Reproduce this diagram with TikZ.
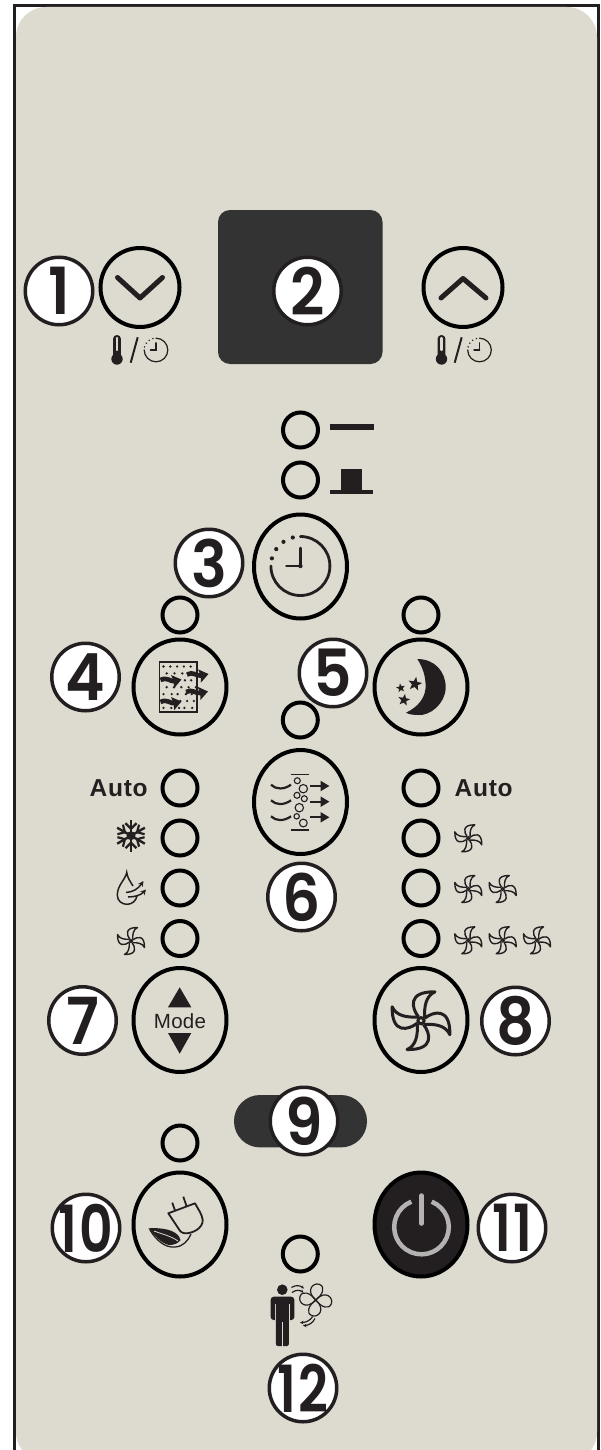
\documentclass[tikz,border=0pt]{standalone}
\usepackage{fontspec}
\usepackage{graphicx}
\setmainfont{Liberation Sans}
\newfontfamily\numfont{Poppins SemiBold}
\usetikzlibrary{shapes.geometric,arrows.meta}
\definecolor{panel}{HTML}{DDDBD0}
\definecolor{ink}{HTML}{231F20}
\definecolor{slate}{HTML}{333333}
\definecolor{powgray}{HTML}{B5B3B2}
\tikzset{
  btn/.style={ellipse,draw=black,line width=4pt,minimum width=93pt,minimum height=104pt,inner sep=0pt},
  rndbtn/.style={ellipse,draw=black,line width=4pt,minimum width=93pt,minimum height=95pt,inner sep=0pt},
  updown/.style={ellipse,draw=black,line width=4pt,minimum width=79pt,minimum height=79pt,inner sep=0pt},
  led/.style={circle,draw=black,line width=4pt,minimum size=35pt,inner sep=0pt},
  badge/.style={circle,draw=ink,fill=white,line width=3.5pt,minimum size=67.5pt,inner sep=0pt,text=ink},
  lbl/.style={text=ink,inner sep=0pt,font=\fontsize{24.5}{24.5}\selectfont\bfseries\addfontfeature{LetterSpace=3}},
  astar/.style={star,star points=5,star point ratio=2.4,fill=ink,inner sep=0pt}
}
\newcommand\bnum[1]{\makebox[0pt]{\scalebox{.92}[1]{\fontsize{65}{65}\selectfont\numfont #1}}}
\newcommand\bnumw[1]{\makebox[0pt]{\scalebox{.8}[1]{\fontsize{65}{65}\selectfont\numfont\addfontfeature{LetterSpace=4} #1}}}
% fan icon: x, y, radius, line width
\newcommand\fanicon[4]{%
  \begin{scope}[shift={(#1,#2)},y=1pt,scale=#3]
    \foreach \a in {0,90,180,270}
      \draw[ink,line width=#4,line join=round,rotate=\a] (-.08,.12) .. controls (-.3,.4) and (-.45,.95) .. (.45,.93) .. controls (.15,.8) and (.1,.45) .. (.12,.1);
    \draw[ink,line width=#4] (0,0) circle (.1);
  \end{scope}}
% clock icon: x, y, scale, line width
\newcommand\clockicon[4]{%
  \begin{scope}[shift={(#1,#2)},y=1pt,scale=#3]
    \draw[ink,line width=#4,line cap=round] (90:29.5) arc[start angle=90,end angle=-180,radius=29.5];
    \foreach \a in {105,125,145,165} \fill[ink] (\a:29.5) circle (2.1);
    \draw[ink,line width=#4,line cap=round] (0,18) -- (0,0) -- (-14,0);
    \fill[ink] (0,0) circle (2.2);
  \end{scope}}
\newcommand\thermo[2]{%
  \begin{scope}[shift={(#1,#2)}]
    \fill[ink,rounded corners=3.8pt] (-3.9,0) rectangle (3.9,24);
    \fill[ink] (0,24) circle (5.7);
    \draw[panel,line width=2.2pt,line cap=round] (0,3) -- (0,15);
  \end{scope}}
\begin{document}
\begin{tikzpicture}[x=1pt,y=-1pt]
\clip (0,0) rectangle (600,1450);
\fill[white] (0,0) rectangle (600,1450);
% frame and panel
\draw[ink,line width=3pt] (14.5,1470) -- (14.5,5.5) -- (598.5,5.5) -- (598.5,1470);
\fill[panel,rounded corners=30pt] (16,7) rectangle (597,1462);

% display and pill
\fill[slate,rounded corners=12pt] (218,210) rectangle (382.5,364);
\fill[slate,rounded corners=26pt] (234,1095) rectangle (367,1147.4);

% up / down buttons
\node[updown] (down) at (140,287.5) {};
\node[updown] (up) at (463,287.5) {};
\draw[ink,line width=5pt,line cap=round,line join=round] (117.5,277.5) -- (140,298) -- (162.5,277.5);
\draw[ink,line width=5pt,line cap=round,line join=round] (441,298) -- (463,278.5) -- (486,298);
\thermo{117}{335}
\thermo{441.5}{335}
\draw[ink,line width=2pt] (130.7,362.7) -- (137.7,337.3);
\draw[ink,line width=2pt] (454.7,362.7) -- (461.7,337.3);
\clockicon{156}{350}{0.4}{1.2pt}
\clockicon{479.5}{350}{0.4}{1.2pt}

% timer
\node[led] (ledA) at (300.5,430) {};
\node[led] (ledB) at (300.5,480) {};
\fill[ink] (330,424) rectangle (374,430);
\fill[ink] (340.6,469) rectangle (362,490);
\fill[ink] (330,490) rectangle (373,494);
\node[btn] (timer) at (300.5,566.5) {};
\clockicon{300.4}{566}{1}{2.8pt}

% LEDs
\node[led] (ledF) at (180,615) {};
\node[led] (ledS) at (421,615) {};
\node[led] (ledP) at (300.3,720) {};
\foreach \y/\n in {788/a,838/b,888/c,938.5/d}{
  \node[led] (ledL\n) at (180,\y) {};
  \node[led] (ledR\n) at (421,\y) {};
}
\node[led] (ledE) at (180,1143) {};
\node[led] (ledH) at (300.3,1254) {};

% buttons
\node[rndbtn] (filter) at (180,687) {};
\node[rndbtn] (sleep) at (421,687) {};
\node[btn] (plasma) at (300.5,802) {};
\node[btn] (mode) at (180,1020) {};
\node[btn] (fan) at (421,1020) {};
\node[btn] (eco) at (180,1224.5) {};
\node[btn,fill=ink] (power) at (421,1224.5) {};

% filter icon
\draw[ink,line width=1.6pt] (159.5,662) rectangle (197,712);
\foreach \r in {0,...,6}{
  \foreach \c in {0,...,4}{
    \pgfmathsetmacro\dx{mod(\r,2)*3.2+mod(\r*\c*7,5)*0.5}
    \fill[ink] (163.5+\c*6.8+\dx,666.5+\r*6.9) circle (1.3);
  }
}
\tikzset{thick arrow/.style={ink,line width=4.6pt,-{Stealth[length=9pt,width=13pt,inset=1pt]}}}
\draw[thick arrow] (160.5,680) .. controls (167,676.5) and (171,682) .. (181.5,679.5);
\draw[thick arrow] (160.5,702) .. controls (167,698.5) and (171,704) .. (181.5,701.5);
\draw[thick arrow] (187,674.5) .. controls (193,671) and (197,676.5) .. (208.5,674);
\draw[thick arrow] (186,692) .. controls (192,688.5) and (196,694) .. (208,691.5);

% moon icon
\fill[ink] (417.3,659) .. controls (435,659) and (446,672) .. (445.7,688) .. controls (445,704) and (430,716) .. (418,715) .. controls (414,715) and (409,714.5) .. (406,712.7) .. controls (418,707) and (427,697) .. (425.5,683) .. controls (425,672) and (420,663) .. (417.3,659) -- cycle;
\node[astar,minimum size=14.5pt,rotate=-10] (st1) at (415,684) {};
\node[astar,minimum size=9.5pt,rotate=10] (st2) at (400.7,688) {};
\node[astar,minimum size=12.5pt,rotate=-10] (st3) at (404,700) {};

% plasma icon
\draw[ink,line width=1.6pt] (291,774.3) -- (309,774.3);
\draw[ink,line width=1.6pt] (291,829.7) -- (309,829.7);
\foreach \y in {786.7,802.3,818.3}{
  \draw[ink,line width=2.2pt] (271,\y-2) .. controls (276,\y+3) and (284,\y+3) .. (291,\y-2);
}
\foreach \y in {786,801.7,817.3}{
  \draw[ink,line width=2.2pt,-{Triangle[length=9pt,width=10pt]}] (310,\y) -- (329.5,\y);
}
\foreach \x/\y/\r in {297.3/780.7/3,303.3/788.7/4.2,297/795.3/3,304.3/798.7/3,299.3/807.7/4.2,296.7/816.3/2.7,303.3/823/3.9}{
  \draw[ink,line width=1.1pt] (\x,\y) circle (\r);
}

% labels left column
\node[lbl] (autoL) at (118.7,788) {Auto};
\node[lbl] (autoR) at (483.7,788) {Auto};
% snowflake
\begin{scope}[shift={(131,835.7)},y=1pt]
  \fill[ink] (0,0) circle (4.5);
  \foreach \a in {90,150,210,270,330,30}{
    \begin{scope}[rotate=\a]
      \draw[ink,line width=2.4pt] (0,0) -- (16,0);
      \draw[ink,line width=2.2pt] (7,0) -- (12.5,5.5);
      \draw[ink,line width=2.2pt] (7,0) -- (12.5,-5.5);
    \end{scope}
  }
\end{scope}
% drop
\draw[ink,line width=1.5pt] (133,886) .. controls (130,881) and (127.5,878) .. (126.7,872.3) .. controls (126,879) and (117.3,885) .. (117.3,895) .. controls (117.3,901) and (122,904.3) .. (127,904.3) .. controls (132,904.3) and (136,901) .. (137,896);
\draw[ink,line width=1.5pt,-{Stealth[length=5.5pt,width=5.5pt]}] (126,892.5) .. controls (133,892) and (138,889) .. (143.5,881);
\draw[ink,line width=1.5pt,-{Stealth[length=5.5pt,width=5.5pt]}] (128,897) .. controls (135,897) and (141,895) .. (146,889.5);
% small fans
\fanicon{131}{941}{14.5}{1.4pt}
\fanicon{468.3}{838.3}{14.5}{1.4pt}
\fanicon{468.3}{889}{14.5}{1.4pt}
\fanicon{502.7}{889}{14.5}{1.4pt}
\fanicon{468.3}{940.3}{14.5}{1.4pt}
\fanicon{502.7}{940.3}{14.5}{1.4pt}
\fanicon{537}{940.3}{14.5}{1.4pt}

% mode
\fill[ink] (168,1007.3) -- (179.7,987.3) -- (191.3,1007.3) -- cycle;
\fill[ink] (168,1033) -- (191.3,1033) -- (179.7,1053.7) -- cycle;
\node[text=ink,inner sep=0pt,font=\fontsize{20.5}{20.5}\selectfont\addfontfeature{LetterSpace=1.5}] (modet) at (180,1021) {Mode};
% big fan
\fanicon{421}{1020.7}{31}{3pt}

% plug
\draw[ink,line width=1.8pt,line join=round] (168.3,1213.3) -- (195,1203.3) .. controls (198,1209) and (202,1214) .. (202.7,1220) .. controls (203,1228) and (193,1233.5) .. (185,1233.3) .. controls (181,1233) and (179,1230) .. (178.3,1228.3) -- cycle;
\draw[ink,line width=1.8pt] (172.3,1202.7) -- (175,1210.5);
\draw[ink,line width=1.8pt] (183.3,1196.7) -- (186.7,1206.5);
\fill[ink] (148.3,1228.3) .. controls (160,1227.5) and (178,1229) .. (180.5,1240) .. controls (178,1244) and (173,1245) .. (169,1245) .. controls (160,1243) and (155,1235) .. (148.3,1228.3) -- cycle;
\draw[ink,line width=1.3pt] (150,1230) .. controls (156,1240) and (165,1248) .. (175,1247) .. controls (183,1246.5) and (188,1241) .. (191,1234);
\draw[panel,line width=.8pt] (154,1231) .. controls (162,1234) and (171,1236) .. (178,1241);

% power icon
\begin{scope}[shift={(421.5,1227)},y=1pt]
  \draw[powgray,line width=4.5pt] (68:27.3) arc[start angle=68,end angle=-248,radius=27.3];
  \draw[powgray,line width=4.5pt,line cap=round] (0,31.5) -- (0,3.5);
\end{scope}

% person and fan
\fill[ink] (282.3,1289.7) circle (5.3);
\fill[ink,rounded corners=3pt] (270.7,1296.7) rectangle (294.3,1320);
\draw[panel,line width=1pt] (275.2,1304) -- (275.2,1321);
\draw[panel,line width=1pt] (289.6,1304) -- (289.6,1321);
\fill[panel] (275.7,1318) rectangle (289,1321);
\fill[ink,rounded corners=2pt] (275.9,1298) rectangle (288.9,1346);
\draw[panel,line width=1.2pt] (282.4,1322) -- (282.4,1347);
\begin{scope}[shift={(315.7,1300)},y=1pt,scale=16]
  \foreach \a in {-8,82,172,262}
    \draw[ink,line width=1.2pt,rotate=\a] (0,0) .. controls (-.75,.5) and (-.3,1.1) .. (.1,1) .. controls (.5,.9) and (.4,.4) .. (0,0);
  \fill[ink] (0,0) circle (.09);
\end{scope}
\draw[ink,line width=1.2pt,-{Stealth[length=3pt,width=3pt]}] (291.5,1287.5) .. controls (296,1284.5) and (300,1285.5) .. (304,1288.5);
\draw[ink,line width=1.2pt,-{Stealth[length=3pt,width=3pt]}] (292,1292.5) .. controls (296,1289.5) and (300,1290) .. (303.5,1292.5);
\draw[ink,line width=1.2pt,-{Stealth[length=3.5pt,width=3.5pt]}] (312.7,1316.5) .. controls (310,1321) and (305,1322.5) .. (300,1322.5);
\draw[ink,line width=1.2pt,-{Stealth[length=3.5pt,width=3.5pt]}] (315,1318.5) .. controls (313,1323) and (308,1325.5) .. (303,1325.5);

% badges
\node[badge] (b1) at (59,291) {\bnum{1}};
\node[badge] (b2) at (307.5,291) {\bnum{2}};
\node[badge] (b3) at (209,563) {\bnum{3}};
\node[badge] (b4) at (85.5,677) {\bnum{4}};
\node[badge] (b5) at (333,673) {\bnum{5}};
\node[badge] (b6) at (301.5,897) {\bnum{6}};
\node[badge] (b7) at (82.5,1020.5) {\bnum{7}};
\node[badge] (b8) at (515.5,1021) {\bnum{8}};
\node[badge] (b9) at (304,1121) {\bnum{9}};
\node[badge] (b10) at (86,1228) {\bnumw{10}};
\node[badge] (b11) at (512,1228) {\bnumw{11}};
\node[badge] (b12) at (303,1388) {\bnumw{12}};
\end{tikzpicture}
\end{document}
